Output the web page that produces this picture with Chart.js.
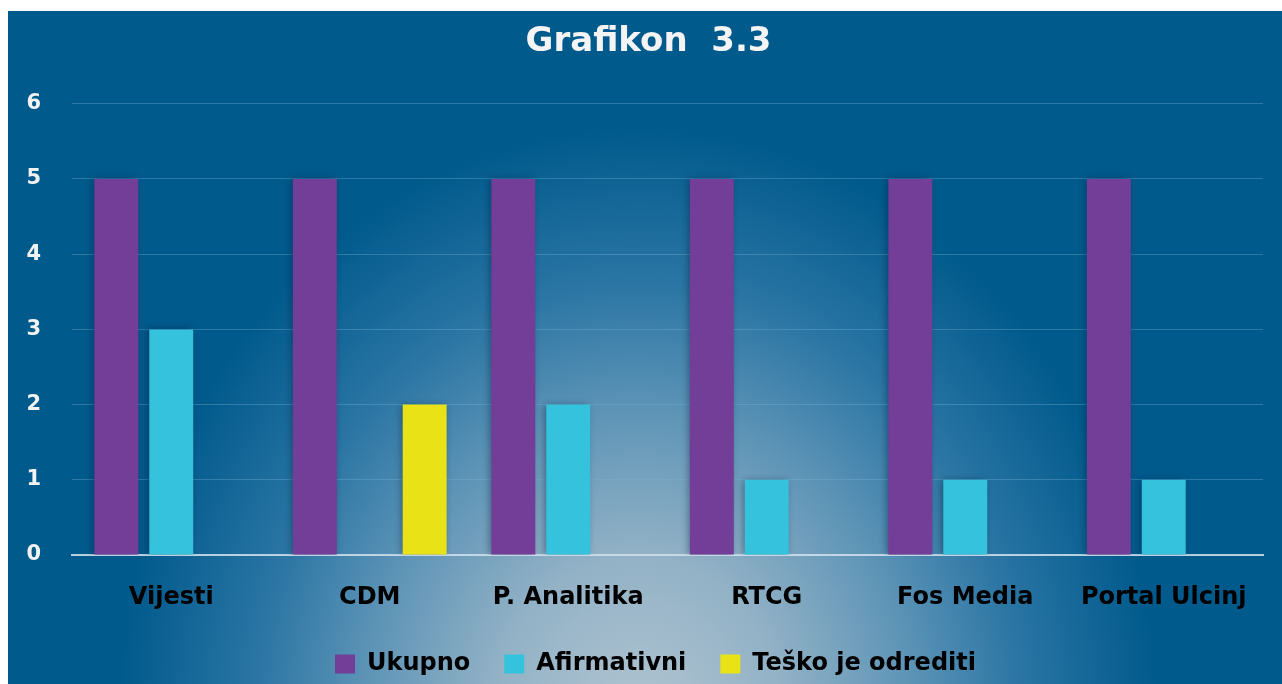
<!DOCTYPE html>
<html>
<head>
<meta charset="utf-8">
<script src="https://cdn.jsdelivr.net/npm/chart.js@4"></script>
<style>
  html, body { margin: 0; padding: 0; background: #fff; }
  #okvir {
    position: absolute; left: 8px; top: 11px; width: 1274px; height: 673px;
    background: radial-gradient(ellipse 520px 600px at 630px 715px,
      #b2c5d2 0%, #93b2c6 28%, #5f95b7 52%, #2a75a4 74%, #005a8c 100%);
  }
  canvas { display: block; }
</style>
</head>
<body>
<div id="okvir"><canvas id="grafikon" width="1274" height="673"></canvas></div>
<script>
var kategorije = ["Vijesti", "CDM", "P. Analitika", "RTCG", "Fos Media", "Portal Ulcinj"];
var ukupno = [5, 5, 5, 5, 5, 5];
var afirmativni = [3, 0, 2, 1, 1, 1];
var teskoOdrediti = [0, 2, 0, 0, 0, 0];
var yOznake = [0, 1, 2, 3, 4, 5, 6];

var fontTekst = "'DejaVu Sans', Verdana, sans-serif";

// sjenka za stubice
var sjenka = {
    id: "sjenka",
    beforeDatasetsDraw: function (chart) {
        var c = chart.ctx;
        c.save();
        c.shadowColor = "rgba(0, 20, 50, 0.4)";
        c.shadowBlur = 7;
        c.shadowOffsetX = -2;
        c.shadowOffsetY = 0;
    },
    afterDatasetsDraw: function (chart) {
        chart.ctx.restore();
    }
};

// naslov i legenda malo desno, kao na slici
var pomjeri = {
    id: "pomjeri",
    afterLayout: function (chart) {
        chart.legend.left += 20;
        chart.legend.right += 20;
        chart.legend.top += 2;
        chart.legend.bottom += 2;
        chart.titleBlock.left += 13;
        chart.titleBlock.right += 13;
    }
};

var ctx = document.getElementById("grafikon").getContext("2d");
var grafikon = new Chart(ctx, {
    type: "bar",
    data: {
        labels: kategorije,
        datasets: [{
                label: "Ukupno",
                data: ukupno,
                backgroundColor: "#733e98"
            },
            {
                label: "Afirmativni",
                data: afirmativni,
                backgroundColor: "#35c2dd"
            },
            {
                label: "Teško je odrediti",
                data: teskoOdrediti,
                backgroundColor: "#e8e216"
            }
        ]
    },
    options: {
        responsive: false,
        animation: false,
        categoryPercentage: 0.83,
        barPercentage: 0.8,
        layout: {
            padding: { left: 0, right: 19, top: 0, bottom: 0 }
        },
        scales: {
            x: {
                grid: { display: false, drawTicks: false },
                border: { display: true, color: "rgba(210, 225, 235, 0.85)", width: 2 },
                ticks: {
                    color: "#000",
                    padding: 28,
                    font: { family: fontTekst, size: 24, weight: "bold" }
                },
                afterFit: function (axis) {
                    axis.height = 61;
                }
            },
            y: {
                min: 0,
                max: 6,
                afterBuildTicks: function (axis) {
                    axis.ticks = yOznake.map(function (v) { return { value: v }; });
                },
                grid: { color: "rgba(120, 180, 215, 0.35)", drawTicks: false, lineWidth: 1 },
                border: { display: false },
                ticks: {
                    color: "#f2f2f2",
                    padding: 31,
                    font: { family: fontTekst, size: 21, weight: "bold" }
                },
                afterFit: function (axis) {
                    axis.width = 64;
                }
            }
        },
        plugins: {
            title: {
                display: true,
                text: "Grafikon  3.3",
                color: "#f4f4f4",
                font: { family: fontTekst, size: 34, weight: "bold" },
                padding: { top: 11, bottom: 41 }
            },
            legend: {
                position: "bottom",
                labels: {
                    color: "#000",
                    boxWidth: 20,
                    boxHeight: 19,
                    padding: 34,
                    font: { family: fontTekst, size: 24, weight: "bold" }
                }
            },
            tooltip: { enabled: false }
        }
    },
    plugins: [sjenka, pomjeri]
});
</script>
</body>
</html>
